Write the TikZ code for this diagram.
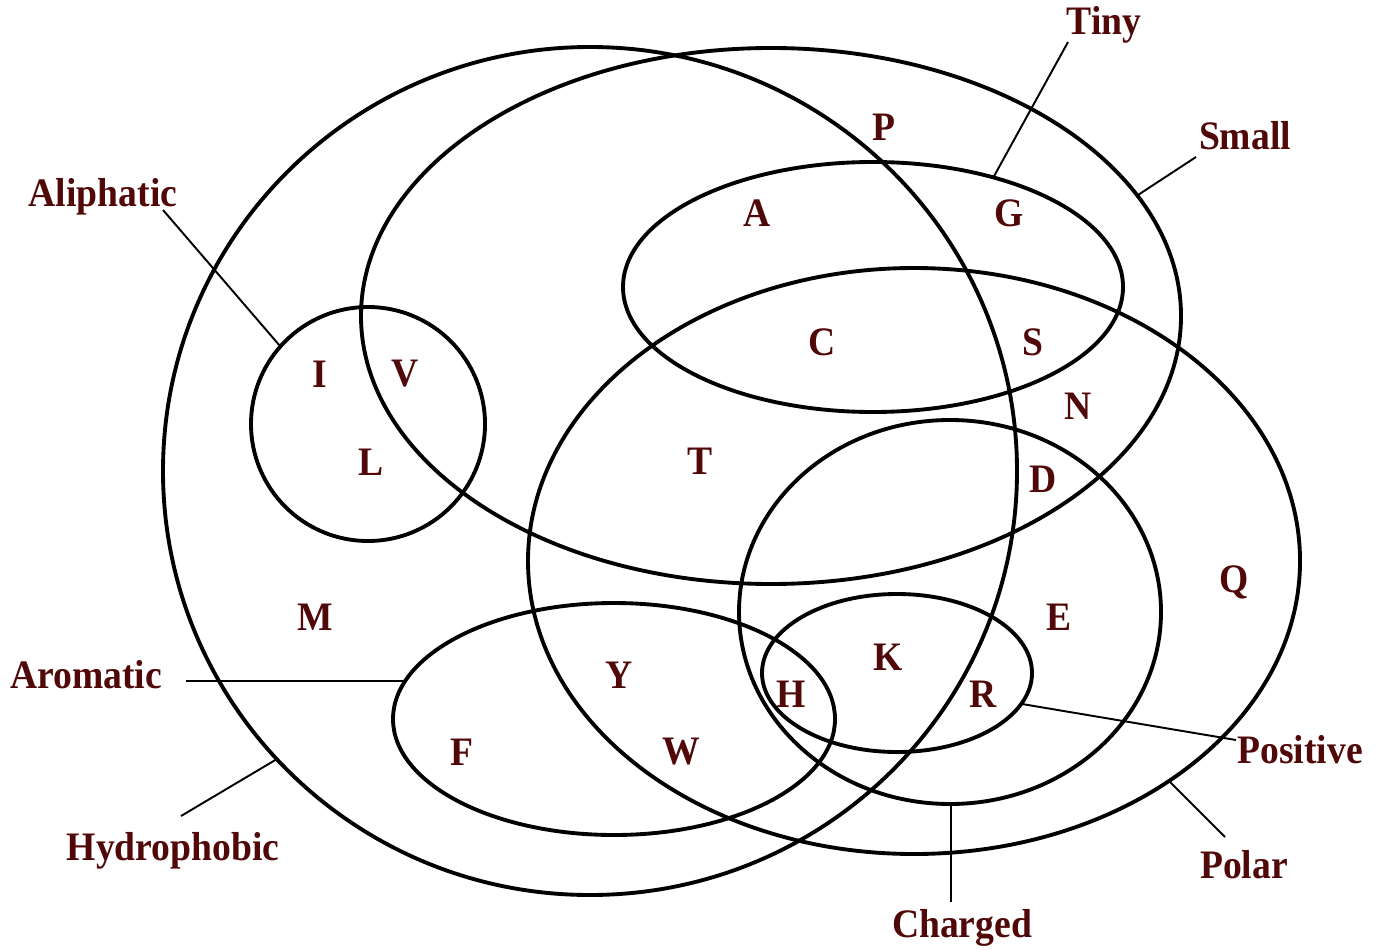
\documentclass[tikz,border=0pt]{standalone}
\usepackage{fontspec}
\setmainfont{Liberation Serif}[FakeStretch=0.93]
\definecolor{lab}{HTML}{500808}
\begin{document}
\begin{tikzpicture}[x=0.01cm,y=-0.01cm,
  set/.style={line width=1.1pt,draw=black},
  leader/.style={line width=0.55pt,draw=black},
  aa/.style={font=\fontsize{11.5}{13}\selectfont\bfseries,text=lab,inner sep=0pt},
  setname/.style={aa,anchor=base}]
\useasboundingbox (0,0) rectangle (1380,949);
% sets
\draw[set] (590,471) ellipse [x radius=427,y radius=424];
\draw[set] (771,316) ellipse [x radius=410,y radius=268];
\draw[set] (914,561) ellipse [x radius=386,y radius=293];
\draw[set] (873,287) ellipse [x radius=250,y radius=125];
\draw[set] (368,424) ellipse [x radius=117,y radius=117];
\draw[set] (614,719) ellipse [x radius=221,y radius=116];
\draw[set] (950,612) ellipse [x radius=211,y radius=192];
\draw[set] (897,673) ellipse [x radius=135,y radius=79];
% set names
\node[setname] (tiny) at (1104,35) {Tiny};
\node[setname] (small) at (1245,150) {Small};
\node[setname] (aliph) at (103,207) {Aliphatic};
\node[setname] (arom) at (86,688) {Aromatic};
\node[setname] (hydro) at (173,860) {Hydrophobic};
\node[setname] (charged) at (962,937) {Charged};
\node[setname] (polar) at (1244,878) {Polar};
\node[setname] (pos) at (1300,763) {Positive};
% leader end points
\coordinate (tinyA) at (1068,42);  \coordinate (tinyB) at (993,178);
\coordinate (smallA) at (1196,157); \coordinate (smallB) at (1138,195);
\coordinate (aliA) at (163,210);   \coordinate (aliB) at (280,346);
\coordinate (aroA) at (186,681);   \coordinate (aroB) at (405,681);
\coordinate (hydA) at (181,816);   \coordinate (hydB) at (277,759);
\coordinate (chA) at (951,902);    \coordinate (chB) at (951,805);
\coordinate (polA) at (1225,837);  \coordinate (polB) at (1168,780);
\coordinate (posA) at (1236,740);  \coordinate (posB) at (1022,704);
\draw[leader] (tinyA) -- (tinyB);
\draw[leader] (smallA) -- (smallB);
\draw[leader] (aliA) -- (aliB);
\draw[leader] (aroA) -- (aroB);
\draw[leader] (hydA) -- (hydB);
\draw[leader] (chA) -- (chB);
\draw[leader] (polA) -- (polB);
\draw[leader] (posA) -- (posB);
% amino acids
\node[aa] (P) at (884,127) {P};
\node[aa] (A) at (757,213) {A};
\node[aa] (G) at (1009,213) {G};
\node[aa] (C) at (822,342) {C};
\node[aa] (S) at (1033,342) {S};
\node[aa] (I) at (320,374) {I};
\node[aa] (V) at (405,374) {V};
\node[aa] (L) at (371,462) {L};
\node[aa] (T) at (700,461) {T};
\node[aa] (N) at (1078,406) {N};
\node[aa] (D) at (1043,479) {D};
\node[aa] (M) at (315,617) {M};
\node[aa] (Q) at (1234,582) {Q};
\node[aa] (E) at (1059,617) {E};
\node[aa] (Y) at (619,675) {Y};
\node[aa] (K) at (888,657) {K};
\node[aa] (H) at (791,694) {H};
\node[aa] (R) at (983,694) {R};
\node[aa] (F) at (462,752) {F};
\node[aa] (W) at (681,752) {W};
\end{tikzpicture}
\end{document}
